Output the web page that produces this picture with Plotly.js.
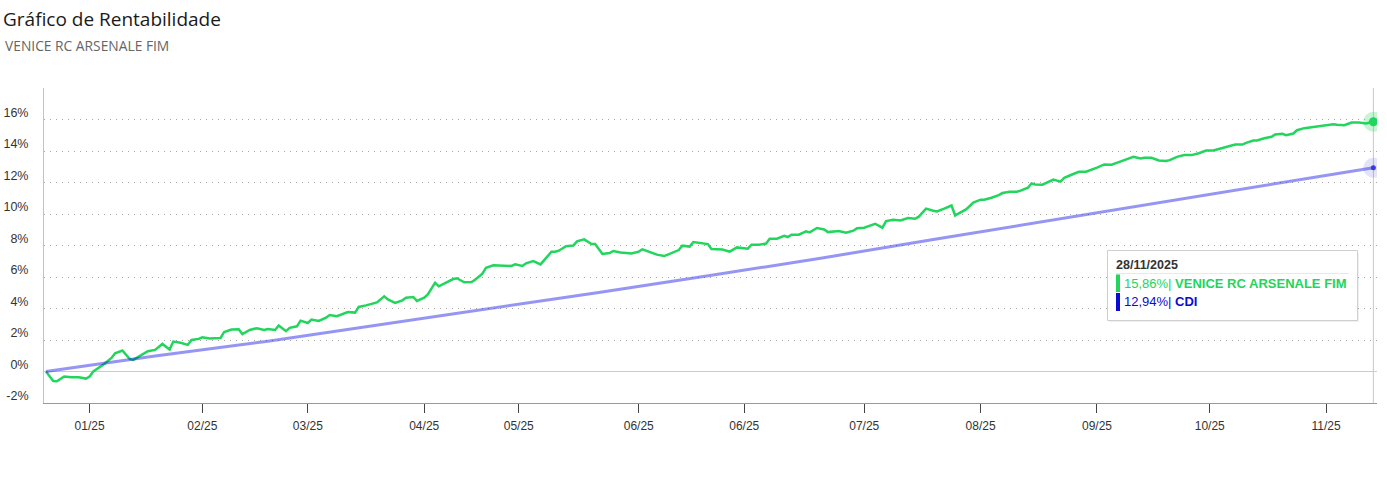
<!DOCTYPE html>
<html>
<head>
<meta charset="utf-8">
<script src="https://cdn.plot.ly/plotly-3.0.1.min.js"></script>
<style>
  html, body { margin: 0; padding: 0; background: #fff; }
  #chart { width: 1387px; height: 500px; }
</style>
</head>
<body>
<div id="chart"></div>
<script>
// ---------------- DATA ----------------
const chartTitle = 'Gráfico de Rentabilidade';
const fundName = 'VENICE RC ARSENALE FIM';
const benchName = 'CDI';
const startDate = '2024-11-28';

// days after startDate for each fund observation
const fundDayOffsets = [
  0,2,3,5,7,9,11,12,13,15,16,18,19,21,23,24,26,28,30,32,34,35,37,39,40,42,43,45,48,49,
  51,53,54,56,58,60,61,63,64,66,67,69,70,72,
  73,75,77,78,80,82,83,85,86,88,91,93,94,96,98,99,101,102,104,105,107,108,110,112,113,115,
  117,118,120,121,123,125,127,128,129,131,132,134,136,137,139,140,
  141,143,145,146,148,150,151,153,155,156,158,161,163,164,166,168,170,172,174,175,177,178,
  180,182,183,185,186,188,190,193,194,196,198,199,201,203,204,205,207,209,210,212,214,
  215,217,218,220,222,223,225,226,228,230,231,233,235,237,239,240,242,244,245,247,249,250,
  252,253,255,257,258,260,262,263,265,267,268,270,271,272,274,276,277,279,280,282,284,286,287,
  289,291,293,295,297,299,301,302,304,306,308,309,311,313,315,317,319,321,322,324,325,327,
  329,330,332,333,335,337,338,340,341,343,344,346,348,350,352,354,355,357,359,361,363,365
];
// cumulative return of the fund, %
const fundValues = [
  0,-0.6,-0.62,-0.32,-0.36,-0.36,-0.45,-0.32,0,0.32,0.48,0.86,1.16,1.33,0.8,0.74,1.01,1.29,1.37,1.75,
  1.39,1.9,1.82,1.69,2.0,2.07,2.17,2.09,2.13,2.51,2.66,2.68,2.38,2.64,2.75,2.64,2.7,2.64,2.92,2.56,
  2.77,2.87,3.23,3.08,
  3.3,3.21,3.42,3.59,3.51,3.72,3.78,3.74,4.1,4.2,4.39,4.77,4.58,4.35,4.52,4.69,4.73,4.48,4.69,4.9,
  5.64,5.41,5.62,5.87,5.92,5.66,5.68,5.83,6.21,6.59,6.74,6.72,6.74,6.7,6.8,6.7,6.87,7.01,6.8,7.06,
  7.61,7.61,
  7.67,7.96,8.0,8.26,8.39,8.09,8.09,7.46,7.52,7.65,7.56,7.5,7.61,7.76,7.59,7.42,7.33,7.5,7.71,7.99,
  7.93,8.22,8.14,8.09,7.77,7.76,7.74,7.61,7.88,7.8,8.05,8.05,8.12,8.43,8.43,8.62,8.54,8.69,8.69,8.9,
  8.83,9.11,9.02,
  8.85,8.88,8.92,8.81,8.94,9.09,9.13,9.21,9.38,9.13,9.55,9.64,9.59,9.74,9.7,9.83,10.34,10.21,10.16,10.34,
  10.54,9.91,10.15,10.29,10.72,10.91,10.91,11.03,11.2,11.33,11.41,11.41,11.48,11.67,11.94,11.88,11.86,12.05,12.18,12.05,
  12.3,12.49,12.68,12.68,12.76,
  12.94,13.15,13.13,13.29,13.48,13.63,13.52,13.57,13.57,13.4,13.36,13.42,13.63,13.74,13.74,13.86,14.03,14.03,14.1,14.24,
  14.29,14.41,14.41,14.52,14.67,14.67,14.81,14.9,15.05,15.09,15.0,15.11,15.32,15.45,15.51,15.56,15.62,15.7,15.66,15.64,
  15.81,15.81,15.75,15.86
];
// CDI benchmark, %
const cdiDayOffsets = [0,30,61,91,122,152,183,213,244,274,305,335,365];
const cdiValues     = [0,0.98,1.92,2.93,3.98,5.02,6.11,7.19,8.38,9.51,10.68,11.81,12.94];

// x-axis ticks (days after startDate) and their labels
const xTickOffsets = [12,43,72,104,130,163,192,225,257,289,320,352];
const xTickLabels  = ['01/25','02/25','03/25','04/25','05/25','06/25','06/25','07/25','08/25','09/25','10/25','11/25'];
// y-axis ticks
const yTickValues = [-2,0,2,4,6,8,10,12,14,16,18];
const yTickLabels = ['-2%','0%','2%','4%','6%','8%','10%','12%','14%','16%',''];

// ---------------- HELPERS ----------------
const startMs = Date.parse(startDate + 'T00:00:00Z');
function toDate(d) {
  return new Date(startMs + d * 86400000).toISOString().slice(0, 19).replace('T', ' ');
}
function fmtBR(v) { return v.toFixed(2).replace('.', ','); }
function fmtDay(d) {
  const s = new Date(startMs + d * 86400000).toISOString().slice(0, 10).split('-');
  return s[2] + '/' + s[1] + '/' + s[0];
}

const fundX = fundDayOffsets.map(toDate);
const cdiX = cdiDayOffsets.map(toDate);
const lastFundX = fundX[fundX.length - 1];
const lastFundY = fundValues[fundValues.length - 1];
const lastCdiX = cdiX[cdiX.length - 1];
const lastCdiY = cdiValues[cdiValues.length - 1];

const GREEN = '#22d55c';
const CDI_LINE = 'rgba(20,20,230,0.45)';
const BLUE = '#0a0ad6';

// plot-area geometry (pixels), for placing the static tooltip
const M = { l: 44, r: 10, t: 88, b: 97 };
const PW = 1387 - M.l - M.r, PH = 500 - M.t - M.b;
const px = x => (x - M.l) / PW;
const py = y => (500 - M.b - y) / PH;

const traces = [
  { x: fundX, y: fundValues, type: 'scatter', mode: 'lines', name: fundName,
    line: { color: GREEN, width: 2.5 }, hoverinfo: 'skip' },
  { x: cdiX, y: cdiValues, type: 'scatter', mode: 'lines', name: benchName,
    line: { color: CDI_LINE, width: 3 }, hoverinfo: 'skip' },
  // hover halos + end markers
  { x: [lastFundX], y: [lastFundY], mode: 'markers', type: 'scatter', hoverinfo: 'skip',
    marker: { size: 20, color: 'rgba(34,213,92,0.25)' } },
  { x: [lastFundX], y: [lastFundY], mode: 'markers', type: 'scatter', hoverinfo: 'skip',
    marker: { size: 9, color: GREEN } },
  { x: [lastCdiX], y: [lastCdiY], mode: 'markers', type: 'scatter', hoverinfo: 'skip',
    marker: { size: 20, color: 'rgba(60,60,220,0.14)' } },
  { x: [lastCdiX], y: [lastCdiY], mode: 'markers', type: 'scatter', hoverinfo: 'skip',
    marker: { size: 5, color: '#3b3bdc' } }
];

const tipFont = 'Liberation Sans, Arial, sans-serif';
const layout = {
  width: 1387, height: 500,
  margin: M,
  paper_bgcolor: '#fff', plot_bgcolor: '#fff',
  showlegend: false,
  hovermode: false,
  title: {
    text: chartTitle, x: 3 / 1387, xref: 'container', xanchor: 'left',
    y: 1 - 19 / 500, yref: 'container', yanchor: 'middle',
    font: { family: 'Open Sans, sans-serif', size: 19, color: '#1a1a1a' }
  },
  xaxis: {
    type: 'date',
    range: [toDate(-0.55), toDate(366)],
    tickvals: xTickOffsets.map(toDate),
    ticktext: xTickLabels,
    showgrid: false, zeroline: false,
    showline: true, linecolor: '#999', linewidth: 1,
    ticks: 'outside', ticklen: 9, tickcolor: '#444', tickwidth: 1,
    ticklabelstandoff: 3,
    tickfont: { family: tipFont, size: 12, color: '#333' }
  },
  yaxis: {
    range: [-2, 18],
    tickvals: yTickValues, ticktext: yTickLabels,
    showgrid: true, gridcolor: '#a8a8a8', griddash: '1px,5px', gridwidth: 1,
    zeroline: true, zerolinecolor: '#cccccc', zerolinewidth: 1,
    showline: true, linecolor: '#c4c4c4', linewidth: 1,
    ticks: '', ticklabelstandoff: 12, ticklabelshift: -7,
    tickfont: { family: tipFont, size: 12.5, color: '#333' }
  },
  shapes: [
    // crosshair at last observation
    { type: 'line', xref: 'x', yref: 'paper', x0: lastFundX, x1: lastFundX, y0: 0, y1: 1,
      line: { color: '#c8c8c8', width: 1 }, layer: 'below' },
    // tooltip shadow & box
    { type: 'rect', xref: 'paper', yref: 'paper', x0: px(1109), x1: px(1359), y0: py(253), y1: py(322),
      fillcolor: 'rgba(0,0,0,0.06)', line: { width: 0 } },
    { type: 'rect', xref: 'paper', yref: 'paper', x0: px(1107.5), x1: px(1357.5), y0: py(250.5), y1: py(320.5),
      fillcolor: '#ffffff', line: { color: '#cfcfcf', width: 1 } },
    { type: 'line', xref: 'paper', yref: 'paper', x0: px(1116), x1: px(1349), y0: py(273.5), y1: py(273.5),
      line: { color: '#e8e8e8', width: 1 } },
    { type: 'rect', xref: 'paper', yref: 'paper', x0: px(1116), x1: px(1120), y0: py(274.5), y1: py(292),
      fillcolor: GREEN, line: { width: 0 } },
    { type: 'rect', xref: 'paper', yref: 'paper', x0: px(1116), x1: px(1120), y0: py(293), y1: py(311),
      fillcolor: BLUE, line: { width: 0 } }
  ],
  annotations: [
    { text: fundName, xref: 'paper', yref: 'paper', x: px(3), y: py(45), xanchor: 'left', yanchor: 'middle',
      showarrow: false, font: { family: 'Open Sans, sans-serif', size: 13.8, color: '#666' } },
    { text: '<b>' + fmtDay(fundDayOffsets[fundDayOffsets.length - 1]) + '</b>', xref: 'paper', yref: 'paper',
      x: px(1114), y: py(265), xanchor: 'left', yanchor: 'middle', showarrow: false,
      font: { family: tipFont, size: 12.5, color: '#333' } },
    { text: fmtBR(lastFundY) + '%| <b>' + fundName + '</b>', xref: 'paper', yref: 'paper',
      x: px(1122), y: py(283), xanchor: 'left', yanchor: 'middle', showarrow: false,
      font: { family: tipFont, size: 13, color: GREEN } },
    { text: fmtBR(lastCdiY) + '%| <b>' + benchName + '</b>', xref: 'paper', yref: 'paper',
      x: px(1122), y: py(301.5), xanchor: 'left', yanchor: 'middle', showarrow: false,
      font: { family: tipFont, size: 13, color: BLUE } }
  ]
};

Plotly.newPlot('chart', traces, layout, { displayModeBar: false, staticPlot: true });
</script>
</body>
</html>
